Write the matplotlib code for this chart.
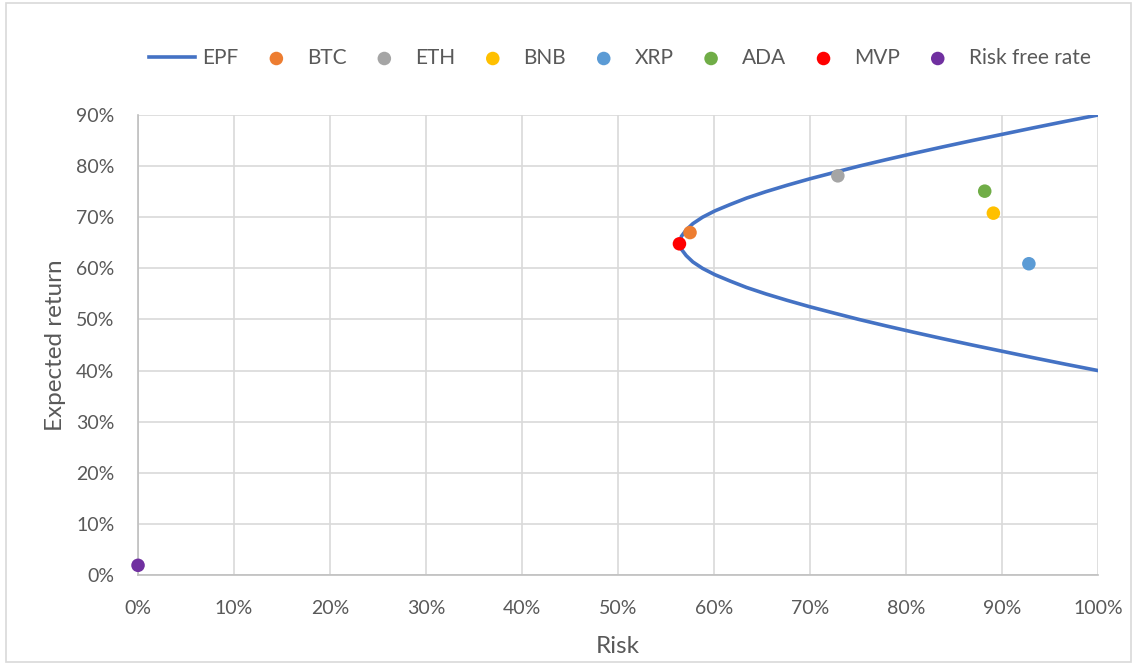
import numpy as np
import matplotlib.pyplot as plt
from matplotlib.ticker import PercentFormatter
from matplotlib.patches import Rectangle

# efficient portfolio frontier (risk %, return %)
epf_risk = [100.0, 96.6, 93.3, 90.1, 86.9, 83.8, 80.8, 77.9, 75.1, 72.5, 69.95, 67.6, 65.4,
            63.4, 61.7, 60.1, 58.8, 57.8, 57.1, 56.6, 56.5, 56.6, 57.1, 57.8, 58.8, 60.1,
            61.7, 63.4, 65.4, 67.6, 69.95, 72.5, 75.1, 77.9, 80.8, 83.8, 86.9, 90.1, 93.3,
            96.6, 100.0]
epf_ret = [90, 88.75, 87.5, 86.25, 85, 83.75, 82.5, 81.25, 80, 78.75, 77.5, 76.25, 75,
           73.75, 72.5, 71.25, 70, 68.75, 67.5, 66.25, 65, 63.75, 62.5, 61.25, 60, 58.75,
           57.5, 56.25, 55, 53.75, 52.5, 51.25, 50, 48.75, 47.5, 46.25, 45, 43.75, 42.5,
           41.25, 40]

assets = ['BTC', 'ETH', 'BNB', 'XRP', 'ADA', 'MVP', 'Risk free rate']
asset_risk = [57.5, 72.9, 89.1, 92.8, 88.2, 56.4, 0.0]
asset_ret = [67.0, 78.1, 70.8, 60.9, 75.1, 64.8, 1.9]
colors = ['#ED7D31', '#A5A5A5', '#FFC000', '#5B9BD5', '#70AD47', '#FF0000', '#7030A0']

plt.rcParams['font.family'] = ['Lato', 'DejaVu Sans']

fig = plt.figure(figsize=(11.37, 6.64), dpi=100)
ax = fig.add_axes([0.1214, 0.134, 0.8443, 0.6928])

ax.plot(np.array(epf_risk) / 100, np.array(epf_ret) / 100, color='#4472C4', lw=2.6,
        label='EPF', zorder=3, solid_joinstyle='round')
for name, r, m, c in zip(assets, asset_risk, asset_ret, colors):
    ax.scatter(r / 100, m / 100, s=95, color=c, label=name, zorder=4, clip_on=False,
               edgecolors='none')

ax.set_xlim(0, 1)
ax.set_ylim(0, 0.9)
ax.set_xticks(np.arange(0, 1.01, 0.1))
ax.set_yticks(np.arange(0, 0.91, 0.1))
ax.xaxis.set_major_formatter(PercentFormatter(1.0, decimals=0))
ax.yaxis.set_major_formatter(PercentFormatter(1.0, decimals=0))
ax.grid(True, color='#d9d9d9', lw=1.2)
ax.set_axisbelow(True)
for s in ['top', 'right']:
    ax.spines[s].set_visible(False)
for s in ['left', 'bottom']:
    ax.spines[s].set_color('#bfbfbf')
    ax.spines[s].set_linewidth(1.2)
ax.tick_params(length=0, labelsize=14, labelcolor='#595959')
ax.tick_params(axis='y', pad=17)
ax.tick_params(axis='x', pad=18)
ax.set_xlabel('Risk', fontsize=17.5, color='#595959', labelpad=14)
ax.set_ylabel('Expected return', fontsize=17.5, color='#595959', labelpad=7)

fig.legend(loc='center', bbox_to_anchor=(0.545, 0.9127), ncol=8, frameon=False,
           fontsize=15, labelcolor='#595959', handlelength=2.2, columnspacing=0.7,
           handletextpad=0.38, markerscale=1.0)

fig.patches.append(Rectangle((0.005, 0.003), 0.99, 0.992, transform=fig.transFigure,
                             fill=False, edgecolor='#d9d9d9', lw=1.2))

fig.savefig('out.png', dpi=100)
